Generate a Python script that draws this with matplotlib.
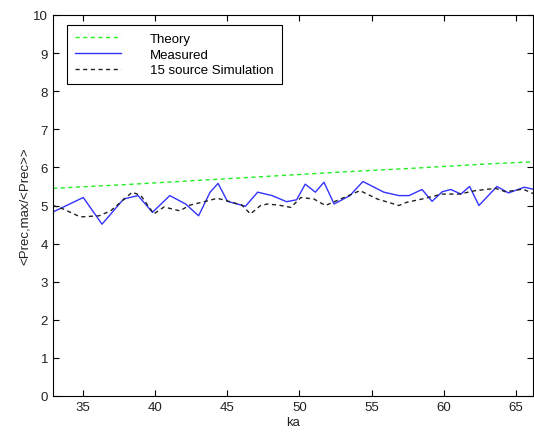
import numpy as np
import matplotlib.pyplot as plt

# Theory curve
ka_theory = [32.9, 38, 43, 48, 53, 58, 63, 66.3]
theory = [5.45, 5.55, 5.66, 5.77, 5.88, 5.98, 6.09, 6.15]

# Measured curve
ka_meas = [32.9, 35.0, 36.3, 37.8, 38.8, 39.8, 41.0, 42.1, 43.0, 43.8, 44.35,
           45.0, 46.25, 47.1, 48.1, 49.1, 49.8, 50.4, 51.1, 51.7, 52.4, 53.5,
           54.4, 55.85, 56.9, 57.6, 58.5, 59.2, 59.9, 60.5, 61.2, 61.8, 62.45,
           63.7, 64.5, 65.6, 66.3]
meas = [4.83, 5.21, 4.51, 5.17, 5.26, 4.82, 5.26, 5.04, 4.73, 5.35, 5.58,
        5.11, 4.98, 5.35, 5.26, 5.10, 5.15, 5.56, 5.35, 5.61, 5.04, 5.26,
        5.63, 5.35, 5.26, 5.26, 5.42, 5.11, 5.36, 5.42, 5.30, 5.50, 5.00,
        5.50, 5.33, 5.48, 5.42]

# 15 source simulation
ka_sim = [32.9, 33.6, 34.8, 36.1, 36.9, 38.4, 39.0, 39.9, 40.6, 41.7, 42.4,
          43.5, 44.3, 44.9, 46.0, 46.6, 47.3, 47.8, 48.7, 49.4, 50.1, 51.0,
          51.8, 52.85, 54.2, 55.4, 56.9, 57.4, 58.5, 59.9, 61.1, 62.2, 63.6,
          64.3, 65.5, 66.3]
sim = [5.00, 4.91, 4.70, 4.73, 4.86, 5.35, 5.26, 4.78, 4.96, 4.86, 5.01,
       5.11, 5.19, 5.13, 5.01, 4.78, 5.00, 5.04, 5.00, 4.95, 5.21, 5.17,
       5.00, 5.17, 5.39, 5.17, 5.00, 5.08, 5.17, 5.30, 5.30, 5.39, 5.45,
       5.36, 5.43, 5.30]

plt.rcParams['font.family'] = ['Liberation Sans', 'DejaVu Sans']

fig = plt.figure(figsize=(5.34, 4.35), dpi=100)
ax = fig.add_axes([53/534, 38/435, 480/534, 381/435])

ax.plot(ka_theory, theory, color='#22ee22', lw=1, ls=(0, (3, 2.5)), label='Theory')
ax.plot(ka_meas, meas, color='#3333ff', lw=1, label='Measured')
ax.plot(ka_sim, sim, color='#222222', lw=1, ls=(0, (3, 2.5)), label='15 source Simulation')

ax.set_xlim(32.9, 66.2)
ax.set_ylim(0, 10)
ax.set_xticks(np.arange(35, 66, 5))
ax.set_yticks(np.arange(0, 11, 1))
ax.tick_params(direction='in', top=True, right=True, labelsize=9.5, length=4,
               width=0.8, labelcolor='#222222')
for s in ax.spines.values():
    s.set_linewidth(0.8)

ax.set_xlabel('ka', fontsize=9.5, labelpad=2, color='#222222')
ax.set_ylabel('<Prec,max/<Prec>>', fontsize=9.5, labelpad=2, color='#222222')

leg = ax.legend(loc='upper left', bbox_to_anchor=(0.029, 0.974), fontsize=9.5,
                fancybox=False, framealpha=1, edgecolor='black',
                handlelength=3.5, handletextpad=2.2, labelspacing=0.25,
                borderpad=0.6, borderaxespad=0)
leg.get_frame().set_linewidth(0.8)

fig.savefig('out.png', dpi=100)
